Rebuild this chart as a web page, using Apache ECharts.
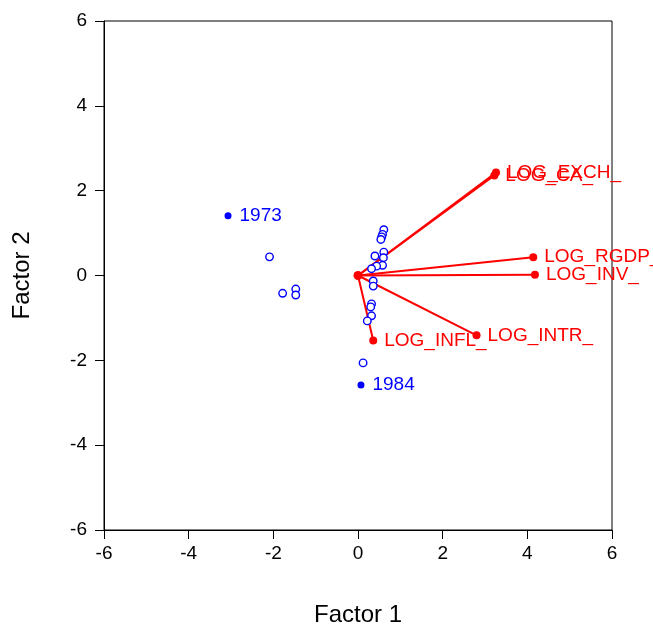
<!DOCTYPE html>
<html>
<head>
<meta charset="utf-8">
<script src="https://cdn.jsdelivr.net/npm/echarts@6/dist/echarts.min.js"></script>
<style>
html,body{margin:0;padding:0;background:#fff;}
#chart{width:653px;height:627px;}
</style>
</head>
<body>
<div id="chart"></div>
<script>
// Unlabeled factor scores (open circles)
const scoreX = [0.61, 0.58, 0.56, 0.54, 0.61, 0.40, 0.60, 0.58, 0.44, 0.32,
                0.36, 0.36, 0.32, 0.30, 0.32, 0.22, 0.12, -2.09, -1.78, -1.47, -1.47];
const scoreY = [1.08, 0.97, 0.91, 0.85, 0.55, 0.46, 0.42, 0.24, 0.22, 0.16,
                -0.13, -0.25, -0.67, -0.74, -0.95, -1.07, -2.06, 0.44, -0.42, -0.32, -0.46];
// Labeled factor scores (filled circles)
const yearLabels = ['1973', '1984'];
const yearX = [-3.07, 0.07];
const yearY = [1.41, -2.58];
// Variable loadings (red vectors)
const varNames = ['LOG_EXCH_', 'LOG_CA_', 'LOG_RGDP_', 'LOG_INV_', 'LOG_INTR_', 'LOG_INFL_'];
const varX = [3.26, 3.22, 4.14, 4.18, 2.80, 0.36];
const varY = [2.43, 2.36, 0.43, 0.02, -1.41, -1.53];
// Axis ticks
const axisMin = -6, axisMax = 6, axisStep = 2;
const xName = 'Factor 1', yName = 'Factor 2';

const FONT = 'Liberation Sans, Arial, sans-serif';
const RED = '#ff0000', BLUE = '#0000ff';

const lineSeries = varNames.map((n, i) => ({
  type: 'line',
  data: [[0, 0], [varX[i], varY[i]]],
  symbol: 'none',
  lineStyle: {color: RED, width: 2, opacity: 1},
  silent: true,
  z: 2
}));

const option = {
  animation: false,
  backgroundColor: '#fff',
  grid: {left: 104, right: 41, top: 21, bottom: 97, show: true, borderColor: '#000', borderWidth: 1,
         containLabel: false, outerBoundsMode: 'none'},
  xAxis: {
    type: 'value', min: axisMin, max: axisMax, interval: axisStep,
    name: xName, nameLocation: 'middle', nameGap: 73,
    nameTextStyle: {fontFamily: FONT, fontSize: 24, color: '#000'},
    axisLine: {show: true, onZero: false, lineStyle: {color: '#000', width: 1}},
    axisTick: {show: true, inside: false, length: 9, lineStyle: {color: '#000'}},
    axisLabel: {fontFamily: FONT, fontSize: 19, color: '#000', margin: 14},
    splitLine: {show: false}
  },
  yAxis: {
    type: 'value', min: axisMin, max: axisMax, interval: axisStep,
    name: yName, nameLocation: 'middle', nameGap: 70,
    nameTextStyle: {fontFamily: FONT, fontSize: 24, color: '#000'},
    axisLine: {show: true, onZero: false, lineStyle: {color: '#000', width: 1}},
    axisTick: {show: true, inside: false, length: 9, lineStyle: {color: '#000'}},
    axisLabel: {fontFamily: FONT, fontSize: 19, color: '#000', margin: 17},
    splitLine: {show: false}
  },
  series: [
    ...lineSeries,
    {
      type: 'scatter',
      data: [[0, 0]],
      symbol: 'circle', symbolSize: 9,
      itemStyle: {color: RED, opacity: 1},
      z: 3
    },
    {
      type: 'scatter',
      data: varNames.map((n, i) => ({value: [varX[i], varY[i]], name: n})),
      symbol: 'circle', symbolSize: 8,
      itemStyle: {color: RED, opacity: 1},
      label: {
        show: true, position: 'right', distance: 7,
        formatter: p => p.name,
        fontFamily: FONT, fontSize: 19, color: RED
      },
      labelLayout: {hideOverlap: false},
      z: 4
    },
    {
      type: 'scatter',
      data: scoreX.map((x, i) => [x, scoreY[i]]),
      symbol: 'circle', symbolSize: 7.5,
      itemStyle: {color: '#fff', borderColor: BLUE, borderWidth: 1.4, opacity: 1},
      z: 5
    },
    {
      type: 'scatter',
      data: yearLabels.map((n, i) => ({value: [yearX[i], yearY[i]], name: n})),
      symbol: 'circle', symbolSize: 7,
      itemStyle: {color: BLUE, opacity: 1},
      label: {
        show: true, position: 'right', distance: 8,
        formatter: p => p.name,
        fontFamily: FONT, fontSize: 19, color: BLUE
      },
      z: 5
    }
  ]
};

const chart = echarts.init(document.getElementById('chart'), null, {renderer: 'canvas'});
chart.setOption(option);
</script>
</body>
</html>
